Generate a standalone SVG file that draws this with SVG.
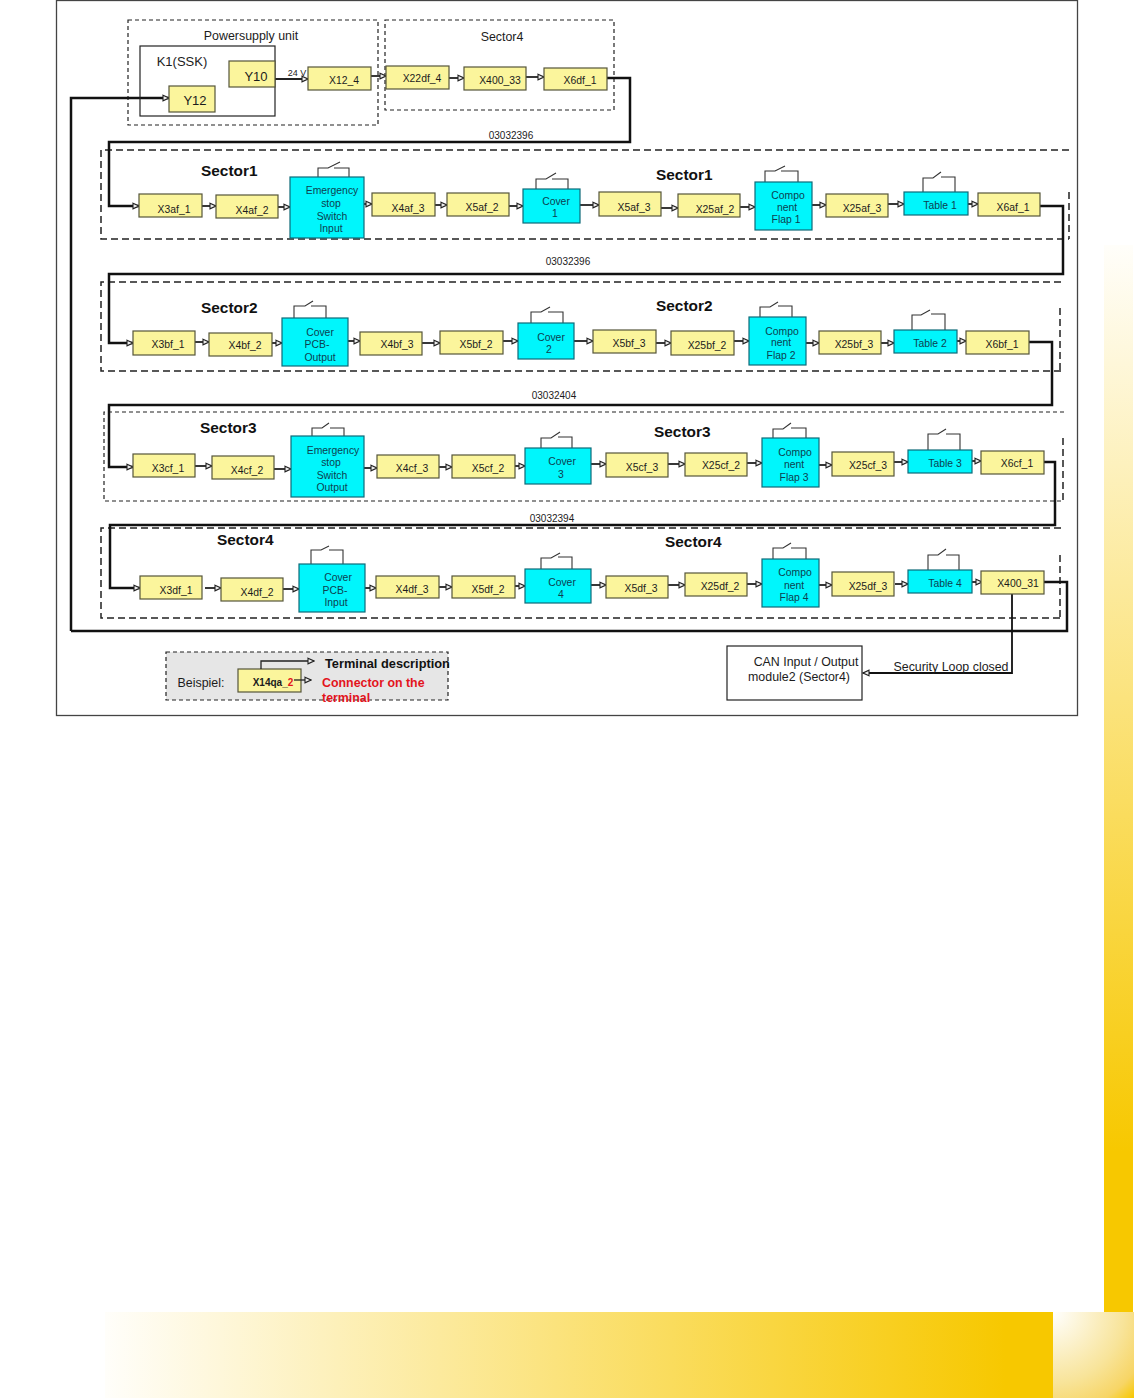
<svg xmlns="http://www.w3.org/2000/svg" width="1134" height="1398" viewBox="0 0 1134 1398">
<style>
text{font-family:"Liberation Sans",Arial,sans-serif;fill:#1c1c1c;font-size:10.4px;text-anchor:middle}
.y{fill:#fbf59c;stroke:#55553a;stroke-width:1.2}
.c{fill:#00f6fc;stroke:#0e6a78;stroke-width:1.2}
.cy{fill:#0d3f50}
.p{fill:none;stroke:#222;stroke-width:1.2}
.sw{fill:none;stroke:#333;stroke-width:1.1}
.d1{fill:none;stroke:#222;stroke-width:1.2;stroke-dasharray:4 3}
.d2{fill:none;stroke:#222;stroke-width:1.5;stroke-dasharray:7 4}
.w{fill:none;stroke:#111;stroke-width:2.5}
.a{fill:none;stroke:#222;stroke-width:1.8;marker-end:url(#ah)}
.w2{fill:none;stroke:#111;stroke-width:2.5;marker-end:url(#ah)}
.s{font-size:15.4px;font-weight:bold;text-anchor:start;fill:#111}
.l{font-size:12.4px}
.big{font-size:13px}
</style>
<defs>
<marker id="ah" markerUnits="userSpaceOnUse" markerWidth="8" markerHeight="8" refX="7" refY="4" orient="auto"><path d="M1 1.2L7 4L1 6.8z" fill="#eee" stroke="#222" stroke-width="1.1"/></marker>
<linearGradient id="gv" x1="0" y1="0" x2="0" y2="1"><stop offset="0" stop-color="#fffefa"/><stop offset="0.85" stop-color="#f7c800"/></linearGradient>
<linearGradient id="gh" x1="0" y1="0" x2="1" y2="0"><stop offset="0" stop-color="#fffefa"/><stop offset="0.95" stop-color="#f7c800"/></linearGradient>
<radialGradient id="gr" gradientUnits="userSpaceOnUse" cx="1053" cy="1312" r="118"><stop offset="0" stop-color="#ffffff"/><stop offset="0.6" stop-color="#f8e49a"/><stop offset="0.85" stop-color="#f7d565"/><stop offset="1" stop-color="#f7c800"/></radialGradient>
</defs>
<rect width="1134" height="1398" fill="#fff"/>
<g id="background">
<rect x="1104" y="245" width="29" height="1067" fill="url(#gv)"/>
<rect x="105" y="1312" width="948" height="86" fill="url(#gh)"/>
<rect x="1053" y="1312" width="81" height="86" fill="url(#gr)"/>
</g>
<rect id="frame" x="56.5" y="0.5" width="1021" height="715" fill="#fff" stroke="#444" stroke-width="1.3"/>
<g id="sectors">
<rect class="d1" x="128" y="20" width="250" height="105"/>
<rect class="d1" x="385" y="20" width="229" height="90"/>
<path class="d2" d="M1069 150H101V239H1069M1069 192V239"/>
<path class="d2" d="M1061 282H101V371H1061M1060 308V371"/>
<path class="d1" d="M1064 412H104V501H1064"/>
<path class="d2" d="M1063 438V500"/>
<path class="d2" d="M1061 528H101V618H1061M1060 555V618"/>
<rect x="166" y="652" width="282" height="48" fill="#e6e6e6" stroke="#222" stroke-width="1.2" stroke-dasharray="4 3"/>
</g>
<g id="connectors">
<path class="w2" d="M71 631V98H169"/>
<path class="w" d="M71 631H1067V582H1044"/>
<path class="w2" d="M607 78H630V142H109V206H139"/>
<path class="w2" d="M1040 206H1063V274H109V343H133"/>
<path class="w2" d="M1029 342H1052V405H109V467H133"/>
<path class="w2" d="M1044 462H1055V525H110V588H140"/>
<path class="w2" style="stroke-width:1.8" d="M1012 594V673H863"/>
<path class="a" d="M275 79H308"/><path class="a" d="M371 76H386"/><path class="a" d="M449 78H464"/><path class="a" d="M526 77H544"/>
<path class="a" d="M202 206H216"/><path class="a" d="M278 207H290"/><path class="a" d="M364 204H372"/><path class="a" d="M435 205H447"/><path class="a" d="M509 206H523"/><path class="a" d="M580 205H599"/><path class="a" d="M661 208H678"/><path class="a" d="M740 207H755"/><path class="a" d="M812 205H826"/><path class="a" d="M888 204H904"/><path class="a" d="M968 204H978"/>
<path class="a" d="M195 342H209"/><path class="a" d="M272 343H282"/><path class="a" d="M348 341H360"/><path class="a" d="M422 343H440"/><path class="a" d="M503 341H518"/><path class="a" d="M574 341H593"/><path class="a" d="M656 343H671"/><path class="a" d="M734 341H749"/><path class="a" d="M806 343H819"/><path class="a" d="M881 343H894"/><path class="a" d="M957 341H966"/>
<path class="a" d="M195 466H212"/><path class="a" d="M274 469H291"/><path class="a" d="M364 468H377"/><path class="a" d="M439 467H452"/><path class="a" d="M515 466H525"/><path class="a" d="M591 464H606"/><path class="a" d="M668 464H685"/><path class="a" d="M747 463H762"/><path class="a" d="M819 465H832"/><path class="a" d="M894 462H908"/><path class="a" d="M972 461H981"/>
<path class="a" d="M205 588H221"/><path class="a" d="M283 589H299"/><path class="a" d="M365 588H376"/><path class="a" d="M439 587H452"/><path class="a" d="M515 586H525"/><path class="a" d="M591 585H606"/><path class="a" d="M668 585H685"/><path class="a" d="M747 584H762"/><path class="a" d="M819 585H832"/><path class="a" d="M895 584H908"/><path class="a" d="M972 582H982"/>
</g>
<g id="labels">
<text class="l" x="251" y="40">Powersupply unit</text>
<text class="l" x="502" y="41">Sector4</text>
<text x="297" y="76" style="font-size:9px">24 V</text>
<text x="511" y="139" style="font-size:10px">03032396</text>
<text x="568" y="265" style="font-size:10px">03032396</text>
<text x="554" y="399" style="font-size:10px">03032404</text>
<text x="552" y="522" style="font-size:10px">03032394</text>
<text class="s" x="201" y="176">Sector1</text><text class="s" x="656" y="180">Sector1</text>
<text class="s" x="201" y="313">Sector2</text><text class="s" x="656" y="311">Sector2</text>
<text class="s" x="200" y="433">Sector3</text><text class="s" x="654" y="437">Sector3</text>
<text class="s" x="217" y="545">Sector4</text><text class="s" x="665" y="547">Sector4</text>
<text class="l" x="951" y="671">Security Loop closed</text>
</g>
<g id="k1"><rect class="p" x="140" y="46" width="135" height="70"/><text class="big" x="182" y="66">K1(SSK)</text></g>
<g id="Y10"><rect class="y" x="229" y="61" width="46" height="26"/><text class="big" x="256" y="81">Y10</text></g>
<g id="Y12"><rect class="y" x="169" y="86" width="46" height="26"/><text class="big" x="195" y="105">Y12</text></g>
<g id="X12_4"><rect class="y" x="308" y="67" width="63" height="23"/><text x="344" y="84">X12_4</text></g>
<g id="X22df_4"><rect class="y" x="386" y="66" width="63" height="23"/><text x="422" y="82">X22df_4</text></g>
<g id="X400_33"><rect class="y" x="464" y="67" width="62" height="23"/><text x="500" y="84">X400_33</text></g>
<g id="X6df_1"><rect class="y" x="544" y="68" width="63" height="22"/><text x="580" y="84">X6df_1</text></g>

<g id="X3af_1"><rect class="y" x="139" y="194" width="63" height="23"/><text x="174" y="213">X3af_1</text></g>
<g id="X4af_2"><rect class="y" x="216" y="195" width="62" height="23"/><text x="252" y="214">X4af_2</text></g>
<g id="estop_in"><path class="sw" d="M318 177V168H328L340 162M334 168H349V177"/><rect class="c" x="290" y="177" width="74" height="61"/><text class="cy" x="332"><tspan x="332" y="194">Emergency</tspan><tspan x="331" y="207">stop</tspan><tspan x="332" y="220">Switch</tspan><tspan x="331" y="232">Input</tspan></text></g>
<g id="X4af_3"><rect class="y" x="372" y="193" width="63" height="23"/><text x="408" y="212">X4af_3</text></g>
<g id="X5af_2"><rect class="y" x="447" y="193" width="62" height="23"/><text x="482" y="211">X5af_2</text></g>
<g id="cover1"><path class="sw" d="M536 189V179H546L556 173M552 179H568V189"/><rect class="c" x="523" y="189" width="57" height="34"/><text class="cy" x="556"><tspan x="556" y="205">Cover</tspan><tspan x="555" y="217">1</tspan></text></g>
<g id="X5af_3"><rect class="y" x="599" y="192" width="62" height="24"/><text x="634" y="211">X5af_3</text></g>
<g id="X25af_2"><rect class="y" x="678" y="194" width="62" height="23"/><text x="715" y="213">X25af_2</text></g>
<g id="flap1"><path class="sw" d="M765 182V171H775L785 166M781 171H798V182"/><rect class="c" x="755" y="182" width="57" height="48"/><text class="cy" x="788"><tspan x="788" y="199">Compo</tspan><tspan x="787" y="211">nent</tspan><tspan x="786" y="223">Flap 1</tspan></text></g>
<g id="X25af_3"><rect class="y" x="826" y="194" width="62" height="23"/><text x="862" y="212">X25af_3</text></g>
<g id="table1"><path class="sw" d="M923 192V178H933L941 172M941 177H955V192"/><rect class="c" x="904" y="192" width="64" height="23"/><text class="cy" x="940" y="209">Table 1</text></g>
<g id="X6af_1"><rect class="y" x="978" y="193" width="62" height="23"/><text x="1013" y="211">X6af_1</text></g>

<g id="X3bf_1"><rect class="y" x="133" y="331" width="62" height="24"/><text x="168" y="348">X3bf_1</text></g>
<g id="X4bf_2"><rect class="y" x="209" y="333" width="63" height="23"/><text x="245" y="349">X4bf_2</text></g>
<g id="pcb_out"><path class="sw" d="M294 318V306H305L313 301M311 306H326V318"/><rect class="c" x="282" y="318" width="66" height="48"/><text class="cy" x="320"><tspan x="320" y="336">Cover</tspan><tspan x="317" y="348">PCB-</tspan><tspan x="320" y="361">Output</tspan></text></g>
<g id="X4bf_3"><rect class="y" x="360" y="332" width="62" height="23"/><text x="397" y="348">X4bf_3</text></g>
<g id="X5bf_2"><rect class="y" x="440" y="331" width="63" height="23"/><text x="476" y="348">X5bf_2</text></g>
<g id="cover2"><path class="sw" d="M531 323V312H541L550 307M548 312H563V323"/><rect class="c" x="518" y="323" width="56" height="36"/><text class="cy" x="551"><tspan x="551" y="341">Cover</tspan><tspan x="549" y="353">2</tspan></text></g>
<g id="X5bf_3"><rect class="y" x="593" y="330" width="63" height="23"/><text x="629" y="347">X5bf_3</text></g>
<g id="X25bf_2"><rect class="y" x="671" y="331" width="63" height="24"/><text x="707" y="349">X25bf_2</text></g>
<g id="flap2"><path class="sw" d="M760 317V307H770L778 302M778 306H792V317"/><rect class="c" x="749" y="317" width="57" height="48"/><text class="cy" x="782"><tspan x="782" y="335">Compo</tspan><tspan x="781" y="346">nent</tspan><tspan x="781" y="359">Flap 2</tspan></text></g>
<g id="X25bf_3"><rect class="y" x="819" y="331" width="62" height="23"/><text x="854" y="348">X25bf_3</text></g>
<g id="table2"><path class="sw" d="M912 331V315H921L930 310M931 314H945V331"/><rect class="c" x="894" y="330" width="63" height="23"/><text class="cy" x="930" y="347">Table 2</text></g>
<g id="X6bf_1"><rect class="y" x="966" y="331" width="63" height="23"/><text x="1002" y="348">X6bf_1</text></g>

<g id="X3cf_1"><rect class="y" x="133" y="454" width="62" height="23"/><text x="168" y="472">X3cf_1</text></g>
<g id="X4cf_2"><rect class="y" x="212" y="456" width="62" height="23"/><text x="247" y="474">X4cf_2</text></g>
<g id="estop_out"><path class="sw" d="M312 436V428H322L329 423M330 428H344V436"/><rect class="c" x="291" y="436" width="73" height="61"/><text class="cy" x="333"><tspan x="333" y="454">Emergency</tspan><tspan x="331" y="466">stop</tspan><tspan x="332" y="479">Switch</tspan><tspan x="332" y="491">Output</tspan></text></g>
<g id="X4cf_3"><rect class="y" x="377" y="455" width="62" height="23"/><text x="412" y="472">X4cf_3</text></g>
<g id="X5cf_2"><rect class="y" x="452" y="455" width="63" height="23"/><text x="488" y="472">X5cf_2</text></g>
<g id="cover3"><path class="sw" d="M541 448V438H551L560 432M558 437H572V448"/><rect class="c" x="525" y="448" width="66" height="36"/><text class="cy" x="562"><tspan x="562" y="465">Cover</tspan><tspan x="561" y="478">3</tspan></text></g>
<g id="X5cf_3"><rect class="y" x="606" y="453" width="62" height="24"/><text x="642" y="471">X5cf_3</text></g>
<g id="X25cf_2"><rect class="y" x="685" y="453" width="62" height="23"/><text x="721" y="469">X25cf_2</text></g>
<g id="flap3"><path class="sw" d="M773 438V429H783L791 423M791 428H806V438"/><rect class="c" x="762" y="438" width="57" height="49"/><text class="cy" x="795"><tspan x="795" y="456">Compo</tspan><tspan x="794" y="468">nent</tspan><tspan x="794" y="481">Flap 3</tspan></text></g>
<g id="X25cf_3"><rect class="y" x="832" y="452" width="62" height="24"/><text x="868" y="469">X25cf_3</text></g>
<g id="table3"><path class="sw" d="M928 450V434H938L946 429M946 434H960V450"/><rect class="c" x="908" y="450" width="64" height="23"/><text class="cy" x="945" y="467">Table 3</text></g>
<g id="X6cf_1"><rect class="y" x="981" y="451" width="63" height="23"/><text x="1017" y="467">X6cf_1</text></g>

<g id="X3df_1"><rect class="y" x="140" y="576" width="62" height="23"/><text x="176" y="594">X3df_1</text></g>
<g id="X4df_2"><rect class="y" x="221" y="578" width="62" height="23"/><text x="257" y="596">X4df_2</text></g>
<g id="pcb_in"><path class="sw" d="M311 564V550H321L329 546M329 550H343V564"/><rect class="c" x="299" y="564" width="66" height="48"/><text class="cy" x="338"><tspan x="338" y="581">Cover</tspan><tspan x="335" y="594">PCB-</tspan><tspan x="336" y="606">Input</tspan></text></g>
<g id="X4df_3"><rect class="y" x="376" y="576" width="63" height="22"/><text x="412" y="593">X4df_3</text></g>
<g id="X5df_2"><rect class="y" x="452" y="576" width="63" height="22"/><text x="488" y="593">X5df_2</text></g>
<g id="cover4"><path class="sw" d="M541 569V558H551L560 553M558 557H572V569"/><rect class="c" x="525" y="569" width="66" height="34"/><text class="cy" x="562"><tspan x="562" y="586">Cover</tspan><tspan x="561" y="598">4</tspan></text></g>
<g id="X5df_3"><rect class="y" x="606" y="576" width="62" height="22"/><text x="641" y="592">X5df_3</text></g>
<g id="X25df_2"><rect class="y" x="685" y="573" width="62" height="23"/><text x="720" y="590">X25df_2</text></g>
<g id="flap4"><path class="sw" d="M773 559V548H783L791 543M791 548H806V559"/><rect class="c" x="762" y="559" width="57" height="48"/><text class="cy" x="795"><tspan x="795" y="576">Compo</tspan><tspan x="794" y="589">nent</tspan><tspan x="794" y="601">Flap 4</tspan></text></g>
<g id="X25df_3"><rect class="y" x="832" y="572" width="62" height="24"/><text x="868" y="590">X25df_3</text></g>
<g id="table4"><path class="sw" d="M928 570V555H938L946 549M946 555H959V570"/><rect class="c" x="908" y="570" width="64" height="23"/><text class="cy" x="945" y="587">Table 4</text></g>
<g id="X400_31"><rect class="y" x="981" y="571" width="63" height="23"/><text x="1018" y="587">X400_31</text></g>

<g id="can"><rect class="p" x="727" y="646" width="135" height="54"/><text class="l" x="806" y="666">CAN Input / Output</text><text class="l" x="799" y="681">module2 (Sector4)</text></g>
<g id="legend">
<text class="l" x="201" y="687">Beispiel:</text>
<rect class="y" x="238" y="669" width="63" height="23"/>
<text x="273" y="686" style="font-weight:bold;font-size:10px">X14qa_<tspan fill="#e3141c">2</tspan></text>
<path class="a" style="stroke-width:1.3" d="M261 669V661H314"/>
<path class="a" style="stroke-width:1.3" d="M294 680H311"/>
<text x="325" y="668" style="font-size:12.8px;font-weight:bold;text-anchor:start;fill:#111">Terminal description</text>
<text x="322" y="687" style="font-size:12.4px;font-weight:bold;text-anchor:start;fill:#e3141c">Connector on the</text>
<text x="322" y="702" style="font-size:12.4px;font-weight:bold;text-anchor:start;fill:#e3141c">terminal</text>
</g>
</svg>
